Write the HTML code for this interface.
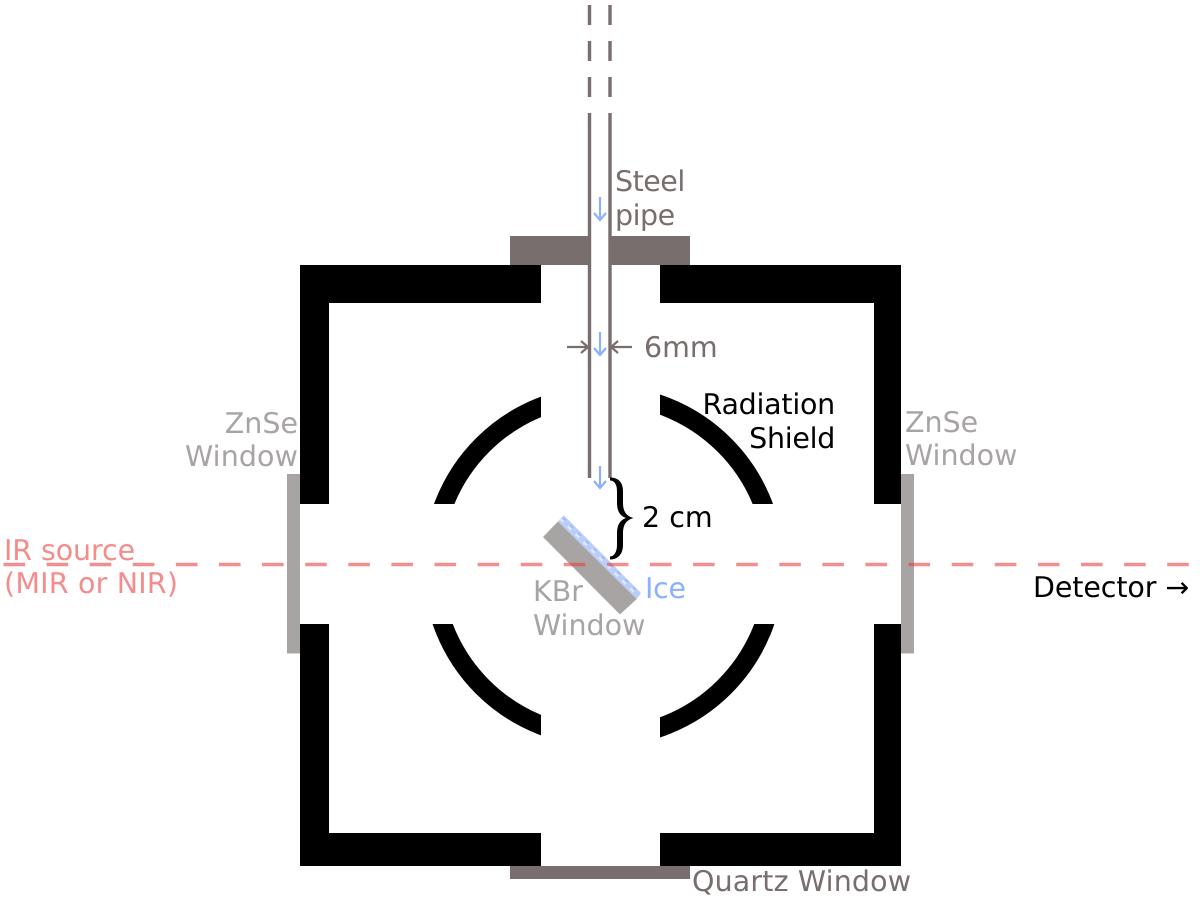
<!DOCTYPE html>
<html lang="en">
<head>
<meta charset="utf-8">
<title>Ice experiment chamber diagram</title>
<style>
html,body{margin:0;padding:0;background:#fff;}
svg{display:block;filter:blur(0.35px);}
text{font-family:"DejaVu Sans","Liberation Sans",sans-serif;font-size:28.5px;text-rendering:geometricPrecision;}
</style>
</head>
<body>
<svg xmlns="http://www.w3.org/2000/svg" width="1200" height="903" viewBox="0 0 1200 903">
<defs>
<clipPath id="arcs">
<rect x="420" y="380" width="121" height="124"/>
<rect x="660" y="380" width="130" height="124"/>
<rect x="420" y="624" width="121" height="125"/>
<rect x="660" y="624" width="130" height="125"/>
</clipPath>
</defs>
<rect width="1200" height="903" fill="#fff"/>

<!-- Outer chamber -->
<path fill="#000" d="M300 265H541V303H329V504H300Z"/>
<path fill="#000" d="M660 265H901V504H874V303H660Z"/>
<path fill="#000" d="M300 624H329V833H541V866H300Z"/>
<path fill="#000" d="M874 624H901V866H660V833H874Z"/>

<!-- Radiation shield -->
<circle cx="603.5" cy="566" r="171" fill="none" stroke="#000" stroke-width="19" clip-path="url(#arcs)"/>

<!-- Windows and flange -->
<rect x="287" y="474" width="13" height="179.500" fill="#a8a4a4"/>
<rect x="901" y="474" width="13" height="179.500" fill="#a8a4a4"/>
<rect x="510" y="866" width="180" height="13" fill="#786e6e"/>
<rect x="510" y="236" width="180" height="29" fill="#786e6e"/>
<rect x="591" y="236" width="18" height="29" fill="#fff"/>

<!-- Pipe -->
<g stroke="#786e6e" stroke-width="3.4" fill="none">
<path d="M589.500 5V25M589.500 41V61M589.500 77V97M589.500 113V478"/>
<path d="M610 5V25M610 41V61M610 77V97M610 113V478"/>
</g>

<!-- KBr window and ice -->
<polygon points="543,537 558,521.500 636.700,599 620,614.500" fill="#a8a4a4"/>
<polygon points="558,521.500 564,515.500 641,593 636.700,599" fill="#b9cefb"/>
<path d="M560 518.500L638 596" stroke="#e0e9fd" stroke-width="2.500" stroke-dasharray="5 6" fill="none"/>
<path d="M562.500 517.500L640 594" stroke="#9fbcf9" stroke-width="2" stroke-dasharray="4 7" fill="none"/>

<!-- IR beam -->
<path d="M3.500 564.500H1192" stroke="#e73c3c" stroke-opacity="0.58" stroke-width="3.600" stroke-dasharray="21.550 21.550" fill="none"/>

<!-- Blue flow arrows -->
<g stroke="#8cb0ff" stroke-width="2.200" fill="none">
<path d="M600 197V219M594 213L600 220L606 213"/>
<path d="M600 332V354M594 348L600 355L606 348"/>
<path d="M600 466V487M594 481L600 488L606 481"/>
</g>

<!-- 6mm arrows -->
<g stroke="#786e6e" stroke-width="2.200" fill="none">
<path d="M567 347H587M581 341L588 347L581 353"/>
<path d="M632 347H612M618 341L611 347L618 353"/>
</g>

<!-- Brace -->
<path fill="#000" d="M610 477.500C618 477.500 623 482 623 491V503C623 511 626 516 633.500 518C626 520 623 525 623 533V545C623 554 618 559.500 610 559.500V556.500C614 556.500 617 552 617 545V533C617 525 620 520 626 518C620 516 617 511 617 503V491C617 484 614 480.500 610 480.500Z"/>

<!-- Labels -->
<g fill="#786e6e">
<text x="615" y="191" letter-spacing="-0.5">Steel</text>
<text x="615" y="225" letter-spacing="-0.5">pipe</text>
<text x="644" y="357">6mm</text>
<text x="692" y="891" letter-spacing="0.15">Quartz Window</text>
</g>
<g fill="#a8a4a4">
<text x="298" y="433" text-anchor="end">ZnSe</text>
<text x="298" y="466" text-anchor="end" letter-spacing="0.1">Window</text>
<text x="905" y="432">ZnSe</text>
<text x="905" y="465">Window</text>
<text x="533" y="601">KBr</text>
<text x="533" y="635">Window</text>
</g>
<g fill="#000">
<text x="835" y="414" text-anchor="end" letter-spacing="-0.25">Radiation</text>
<text x="835" y="448" text-anchor="end" letter-spacing="-0.3">Shield</text>
<text x="642" y="527">2 cm</text>
<text x="1033" y="597" letter-spacing="-0.1">Detector →</text>
</g>
<g fill="#f48c8c">
<text x="4" y="560" letter-spacing="-0.1">IR source</text>
<text x="4" y="593" letter-spacing="0.2">(MIR or NIR)</text>
</g>
<text x="645" y="598" fill="#8cb0ff" letter-spacing="-0.3">Ice</text>
</svg>
</body>
</html>
